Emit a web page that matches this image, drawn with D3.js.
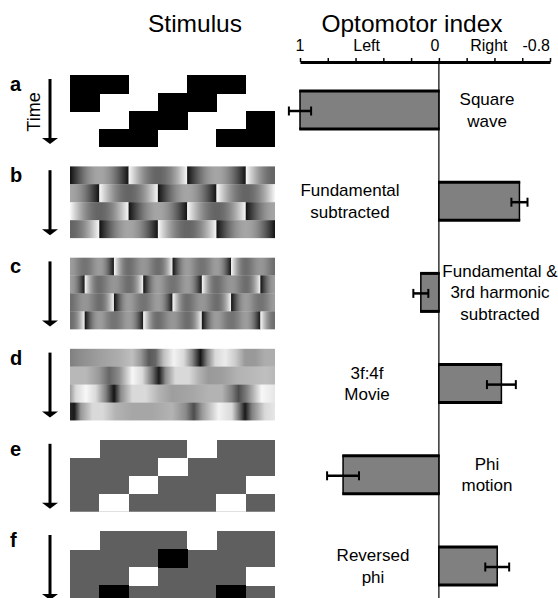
<!DOCTYPE html>
<html>
<head>
<meta charset="utf-8">
<script src="https://cdn.jsdelivr.net/npm/d3@7/dist/d3.min.js"></script>
<style>
  html, body { margin: 0; padding: 0; background: #fff; }
  svg { display: block; font-family: "Liberation Sans", Arial, Helvetica, sans-serif; }
</style>
</head>
<body>
<svg id="chart" width="558" height="598"></svg>
<script>
// ---------------- data ----------------
const panels = ["a", "b", "c", "d", "e", "f"];
const conditionLabels = [
  ["Square", "wave"],
  ["Fundamental", "subtracted"],
  ["Fundamental &", "3rd harmonic", "subtracted"],
  ["3f:4f", "Movie"],
  ["Phi", "motion"],
  ["Reversed", "phi"]
];
const optomotorIndex = [1.0, -0.58, 0.13, -0.45, 0.69, -0.42];
const indexError = [0.08, 0.058, 0.054, 0.104, 0.115, 0.086];
const tickValues = [1, 0.8, 0.6, 0.4, 0.2, 0, -0.2, -0.4, -0.6, -0.8];
const labelledTicks = [1, 0, -0.8];
const tickLabels = ["1", "0", "-0.8"];
const directionWords = ["Left", "Right"];

// stimulus space-time plots (4 frames, 7 quarter-period columns)
const squareWaveCells = ["BB..BB.", "B..BB..", "..BB..B", ".BB..BB"];
const phiCells = ["W...W..", "...W...", "..W...W", ".W...W."];
const reversedPhiCells = ["W...W..", "...B...", "..W...W", ".B...B."];
const fundSubPhase = [0, -1, -2, -3];          // start of dark half-cycle, in quarter periods
const harmSubPhase = [-0.5, -1.5, -2.5, -3.5];
// 3f:4f movie luminance read along each frame: [position 0..1, luminance 0..1]
const movieRows = [
  [[0,0.5],[0.045,0.55],[0.142,0.62],[0.239,0.68],[0.304,0.75],[0.345,0.6],[0.385,0.35],[0.417,0.4],[0.458,0.75],[0.506,0.95],[0.555,0.85],[0.595,0.55],[0.636,0.08],[0.668,0.5],[0.709,0.85],[0.757,0.92],[0.806,0.8],[0.854,0.6],[0.903,0.6],[0.951,0.68],[1,0.68]],
  [[0,0.72],[0.078,0.72],[0.142,0.6],[0.191,0.4],[0.239,0.55],[0.304,0.97],[0.353,0.85],[0.401,0.45],[0.434,0.1],[0.466,0.55],[0.515,0.85],[0.579,0.85],[0.628,0.7],[0.676,0.6],[0.741,0.62],[0.822,0.7],[0.887,0.72],[0.951,0.75],[1,0.72]],
  [[0,0.6],[0.029,0.85],[0.078,0.97],[0.126,0.85],[0.175,0.5],[0.215,0.08],[0.248,0.55],[0.304,0.85],[0.369,0.85],[0.434,0.7],[0.498,0.62],[0.595,0.65],[0.676,0.7],[0.741,0.7],[0.79,0.5],[0.822,0.3],[0.862,0.5],[0.935,0.97],[1,0.9]],
  [[0,0.15],[0.021,0.1],[0.053,0.6],[0.11,0.85],[0.159,0.85],[0.223,0.7],[0.304,0.65],[0.401,0.65],[0.498,0.7],[0.563,0.55],[0.604,0.3],[0.644,0.6],[0.725,0.95],[0.79,0.85],[0.83,0.4],[0.854,0.1],[0.887,0.5],[0.951,0.85],[1,0.9]]
];

// ---------------- layout ----------------
const W = 558, H = 598;
const svg = d3.select("#chart");

const x = d3.scaleLinear().domain([1, -0.8]).range([300, 550]);
const y = d3.scalePoint().domain(panels).range([110, 566]);
const barH = 38;
const axisY = 62;

const imgX0 = 70, imgW = 205, imgH = 72, nCols = 7;
const q = imgW / nCols;
const rowH = imgH / 4;

// titles
svg.append("text").attr("x", 195).attr("y", 32).attr("text-anchor", "middle")
  .attr("font-size", 24.5).text("Stimulus");
svg.append("text").attr("x", 412).attr("y", 32).attr("text-anchor", "middle")
  .attr("font-size", 24.5).text("Optomotor index");

// axis
const axis = d3.axisTop(x).tickValues(tickValues).tickSize(4).tickSizeOuter(0).tickFormat("");
const gAxis = svg.append("g").attr("transform", `translate(0,${axisY})`).call(axis);
gAxis.select(".domain").attr("stroke", "#000").attr("stroke-width", 3);
gAxis.selectAll(".tick line").attr("stroke", "#000").attr("stroke-width", 1.5);

const tickAnchor = ["middle", "middle", "end"];
const tickShift = [0, -4, 0];
svg.selectAll(".tlab").data(labelledTicks).enter().append("text")
  .attr("class", "tlab")
  .attr("x", (d, i) => x(d) + tickShift[i]).attr("y", 51)
  .attr("text-anchor", (d, i) => tickAnchor[i])
  .attr("font-size", 16).text((d, i) => tickLabels[i]);
const dirPos = [0.52, -0.36];
svg.selectAll(".dlab").data(directionWords).enter().append("text")
  .attr("class", "dlab")
  .attr("x", (d, i) => x(dirPos[i])).attr("y", 51)
  .attr("text-anchor", "middle").attr("font-size", 16).text(d => d);

// zero line
svg.append("line").attr("x1", x(0)).attr("x2", x(0)).attr("y1", axisY).attr("y2", H)
  .attr("stroke", "#000").attr("stroke-width", 1.2);

// bars
const bars = svg.append("g");
panels.forEach((p, i) => {
  const v = optomotorIndex[i];
  const x0 = Math.min(x(v), x(0)), x1 = Math.max(x(v), x(0));
  const top = y(p) - barH / 2;
  bars.append("rect").attr("x", x0).attr("y", top).attr("width", x1 - x0).attr("height", barH)
    .attr("fill", "#808080").attr("stroke", "#000").attr("stroke-width", 1.5);
  [top, top + barH].forEach(yy => bars.append("line")
    .attr("x1", x0 - 0.75).attr("x2", x1 + 0.75).attr("y1", yy).attr("y2", yy)
    .attr("stroke", "#000").attr("stroke-width", 3));
  // error bar
  const ey = y(p) + 1;
  const ea = x(v - indexError[i]), eb = x(v + indexError[i]);
  bars.append("line").attr("x1", ea).attr("x2", eb).attr("y1", ey).attr("y2", ey)
    .attr("stroke", "#000").attr("stroke-width", 2.5);
  [ea, eb].forEach(ex => bars.append("line").attr("x1", ex).attr("x2", ex)
    .attr("y1", ey - 4.5).attr("y2", ey + 4.5).attr("stroke", "#000").attr("stroke-width", 2));
});

// condition labels
const labelX = [487, 350, 500, 367, 487, 373];
panels.forEach((p, i) => {
  const lines = conditionLabels[i];
  const first = y(p) - 5 - (lines.length - 2) * 10.75;
  const t = svg.append("text").attr("text-anchor", "middle").attr("font-size", 17);
  lines.forEach((ln, j) => t.append("tspan").attr("x", labelX[i]).attr("y", first + j * 21.5).text(ln));
});

// panel letters and arrows
panels.forEach((p, i) => {
  const c = y(p);
  svg.append("text").attr("x", 10).attr("y", c - 19).attr("font-size", 20)
    .attr("font-weight", "bold").text(p);
  const top = c - 31, tip = c + 34;
  svg.append("line").attr("x1", 50).attr("x2", 50).attr("y1", top).attr("y2", tip - 5)
    .attr("stroke", "#000").attr("stroke-width", 3);
  svg.append("path").attr("d", `M42,${tip - 6}L58,${tip - 6}L50,${tip}Z`).attr("fill", "#000");
});
svg.append("text").attr("transform", `translate(40,${y("a") + 2}) rotate(-90)`)
  .attr("text-anchor", "middle").attr("font-size", 18).text("Time");

// ---------------- stimuli ----------------
const defs = svg.append("defs");
panels.forEach(p => {
  defs.append("clipPath").attr("id", "clip-" + p).append("rect")
    .attr("x", imgX0).attr("y", y(p) - 35).attr("width", imgW).attr("height", imgH);
});
const grey = v => { const g = Math.round(Math.max(0, Math.min(1, v)) * 255); return `rgb(${g},${g},${g})`; };

function cellPanel(p, cells, colors) {
  const g = svg.append("g").attr("clip-path", `url(#clip-${p})`).attr("shape-rendering", "crispEdges");
  const top = y(p) - 35;
  g.append("rect").attr("x", imgX0).attr("y", top).attr("width", imgW).attr("height", imgH)
    .attr("fill", colors["."]);
  cells.forEach((row, r) => {
    row.split("").forEach((ch, k) => {
      if (ch === ".") return;
      g.append("rect").attr("x", imgX0 + k * q).attr("y", top + r * rowH)
        .attr("width", q + 0.5).attr("height", rowH + 0.5).attr("fill", colors[ch]);
    });
  });
}
cellPanel("a", squareWaveCells, { ".": "#fff", "B": "#000" });
cellPanel("e", phiCells, { ".": "#5f5f5f", "W": "#fff" });
cellPanel("f", reversedPhiCells, { ".": "#5f5f5f", "W": "#fff", "B": "#000" });

// half-cycle gradient profiles for harmonic-subtracted square waves
function makeBlockGradient(id, harmonics, sign) {
  const gr = defs.append("linearGradient").attr("id", id).attr("x1", 0).attr("x2", 1).attr("y1", 0).attr("y2", 0);
  const N = 40;
  for (let s = 0; s <= N; s++) {
    const t = s / N, ph = Math.PI * Math.min(0.999, Math.max(0.001, t));
    let f = 0;
    harmonics.forEach(h => { f += Math.sin(h * ph) / h; });
    const L = sign * (1 - (4 / Math.PI) * f);
    gr.append("stop").attr("offset", t).attr("stop-color", grey(0.52 + 0.46 * L));
  }
}
makeBlockGradient("b-dark", [1], -1);
makeBlockGradient("b-light", [1], 1);
makeBlockGradient("c-dark", [1, 3], -1);
makeBlockGradient("c-light", [1, 3], 1);

function harmonicPanel(p, phases) {
  const g = svg.append("g").attr("clip-path", `url(#clip-${p})`);
  const top = y(p) - 35;
  phases.forEach((ph, r) => {
    for (let k = -2; k < 6; k++) {
      const xs = imgX0 + (ph + 2 * k) * q;
      g.append("rect").attr("x", xs).attr("y", top + r * rowH)
        .attr("width", 2 * q + 0.3).attr("height", rowH + 0.3)
        .attr("fill", `url(#${p}-${k % 2 === 0 ? "dark" : "light"})`);
    }
  });
}
harmonicPanel("b", fundSubPhase);
harmonicPanel("c", harmSubPhase);

// 3f:4f movie
(function () {
  const p = "d", top = y(p) - 35;
  const g = svg.append("g").attr("clip-path", `url(#clip-${p})`);
  movieRows.forEach((row, r) => {
    const gr = defs.append("linearGradient").attr("id", "d-row" + r)
      .attr("x1", 0).attr("x2", 1).attr("y1", 0).attr("y2", 0);
    row.forEach(([o, l]) => gr.append("stop").attr("offset", o).attr("stop-color", grey(l)));
    g.append("rect").attr("x", imgX0).attr("y", top + r * rowH).attr("width", imgW)
      .attr("height", rowH + 0.3).attr("fill", `url(#d-row${r})`);
  });
})();
</script>
</body>
</html>
